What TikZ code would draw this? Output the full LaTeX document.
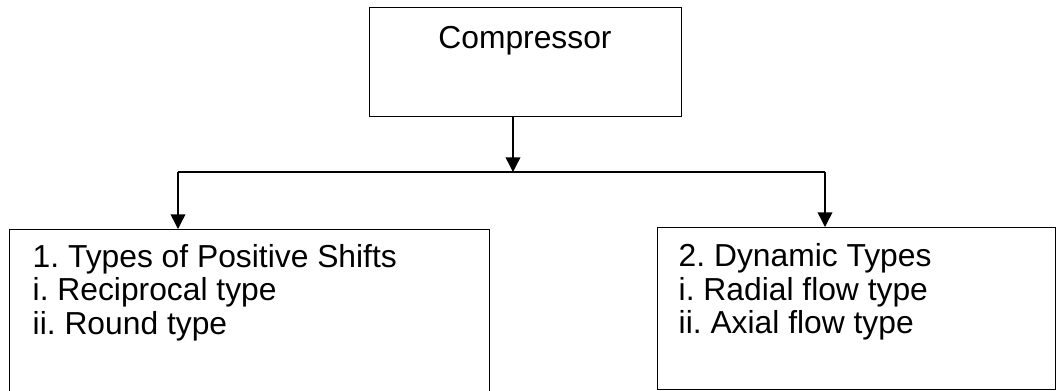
\documentclass[tikz,border=0pt]{standalone}
\usepackage{fontspec}
\setmainfont{Liberation Sans}
\usetikzlibrary{arrows.meta}
\frenchspacing
\begin{document}
\begin{tikzpicture}[x=0.75pt,y=-0.75pt,
  line width=1.1pt,
  boxnode/.style={draw=black,line width=1.1pt,rectangle,anchor=north west,inner sep=0pt},
  txt/.style={anchor=base west,inner sep=0pt,font=\fontsize{23.85}{28}\selectfont},
  arr/.style={-{Triangle[length=11pt,width=11pt]}}]
\useasboundingbox (0,0) rectangle (1057,390);
\clip (0,0) rectangle (1057,390);
% boxes
\node[boxnode,minimum width=234pt,minimum height=81.75pt] (comp) at (369,7) {};
\node[boxnode,minimum width=360pt,minimum height=126pt] (left) at (9,229) {};
\node[boxnode,minimum width=298.5pt,minimum height=121.5pt] (right) at (657,227) {};
% texts
\node[txt,anchor=base] (ctext) at (525,48) {Compressor};
\node[txt] (l1) at (32,267) {1. Types of Positive Shifts};
\node[txt] (l2) at (32,300.5) {i. Reciprocal type};
\node[txt] (l3) at (32,334) {ii. Round type};
\node[txt] (r1) at (678,266.5) {2. Dynamic Types};
\node[txt] (r2) at (678,300) {i. Radial flow type};
\node[txt] (r3) at (678,333.5) {ii. Axial flow type};
% connectors
\coordinate (mid) at (513,172);
\coordinate (lj) at (178,172);
\coordinate (rj) at (825,172);
\draw[arr] (comp.south -| mid) -- (mid);
\draw (lj) -- (rj);
\draw[arr] (lj) -- (lj |- left.north);
\draw[arr] (rj) -- (rj |- right.north);
\end{tikzpicture}
\end{document}
